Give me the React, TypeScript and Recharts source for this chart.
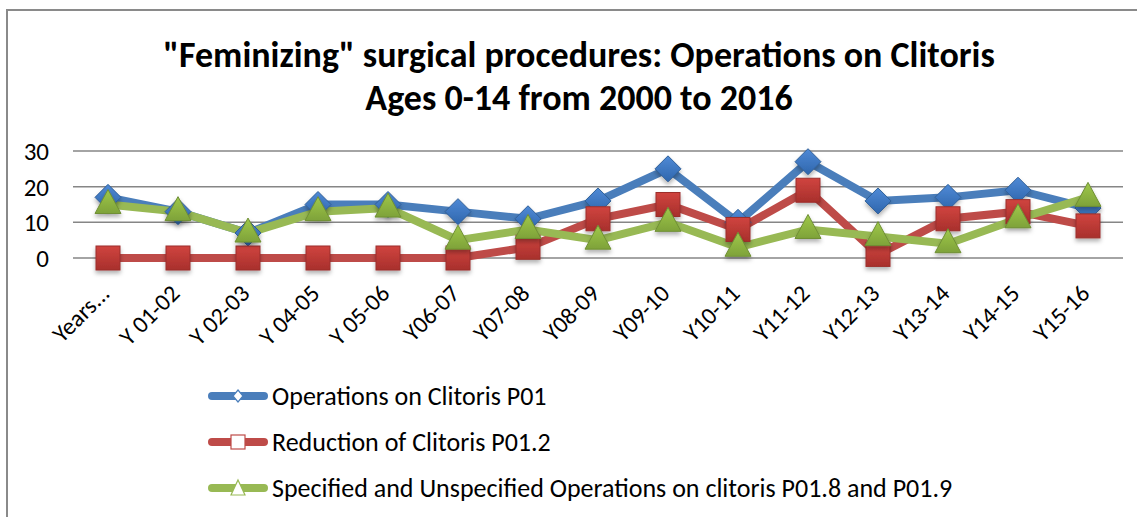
import React from 'react';
import { LineChart, Line, XAxis, YAxis, CartesianGrid } from 'recharts';

const categories = [
  'Years...', 'Y 01-02', 'Y 02-03', 'Y 04-05', 'Y 05-06', 'Y06-07', 'Y07-08', 'Y08-09',
  'Y09-10', 'Y10-11', 'Y11-12', 'Y12-13', 'Y13-14', 'Y14-15', 'Y15-16',
];
const operationsP01 = [17, 13, 7, 15, 15, 13, 11, 16, 25, 10, 27, 16, 17, 19, 14];
const reductionP012 = [0, 0, 0, 0, 0, 0, 3, 11, 15, 8, 19, 1, 11, 13, 9];
const specifiedP018 = [15, 13, 7, 13, 14, 5, 8, 5, 10, 3, 8, 6, 4, 11, 17];
const yTicks = [0, 10, 20, 30];

const seriesNames = [
  'Operations on Clitoris P01',
  'Reduction of Clitoris P01.2',
  'Specified and Unspecified Operations on clitoris P01.8 and P01.9',
];

const data = categories.map((name, i) => ({
  name,
  ops: operationsP01[i],
  red: reductionP012[i],
  spec: specifiedP018[i],
}));

const FONT = 'Carlito, Calibri, Lato, "Open Sans", sans-serif';
const BLUE = '#4a7ebb';
const RED = '#be4b48';
const GREEN = '#98b954';

const Diamond = (p: any) => {
  const { cx, cy } = p;
  if (cx == null || cy == null) return null;
  const r = 13;
  return (
    <polygon
      key={`d-${p.index}`}
      points={`${cx},${cy - r} ${cx + r},${cy} ${cx},${cy + r} ${cx - r},${cy}`}
      fill="url(#gBlue)"
      stroke="#2f5f98"
      strokeWidth={1}
      filter="url(#shadow)"
    />
  );
};

const Square = (p: any) => {
  const { cx, cy } = p;
  if (cx == null || cy == null) return null;
  const r = 12;
  return (
    <rect
      key={`s-${p.index}`}
      x={cx - r}
      y={cy - r}
      width={r * 2}
      height={r * 2}
      fill="url(#gRed)"
      stroke="#9c2f2c"
      strokeWidth={1}
      filter="url(#shadow)"
    />
  );
};

const Triangle = (p: any) => {
  const { cx, cy } = p;
  if (cx == null || cy == null) return null;
  const w = 13;
  return (
    <polygon
      key={`t-${p.index}`}
      points={`${cx},${cy - 15} ${cx + w},${cy + 9} ${cx - w},${cy + 9}`}
      fill="url(#gGreen)"
      stroke="#6f8f34"
      strokeWidth={1}
      filter="url(#shadow)"
    />
  );
};

const XTick = (p: any) => {
  const { x, payload } = p;
  const ax = x + 3;
  const ay = 295;
  return (
    <text
      x={ax}
      y={ay}
      transform={`rotate(-45 ${ax} ${ay})`}
      textAnchor="end"
      fontFamily={FONT}
      fontSize={24}
      fill="#000"
    >
      {payload.value}
    </text>
  );
};

const LegendIcon = ({ color, kind }: { color: string; kind: string }) => (
  <svg width={64} height={20} style={{ display: 'block' }}>
    <line x1={4} y1={10} x2={56} y2={10} stroke={color} strokeWidth={8} strokeLinecap="round" />
    {kind === 'diamond' && (
      <polygon points="30,4 35,10 30,16 25,10" fill="#fff" stroke={color} strokeWidth={1.2} />
    )}
    {kind === 'square' && <rect x={23} y={3} width={14} height={14} fill="#fff" stroke={color} strokeWidth={1.2} />}
    {kind === 'triangle' && (
      <polygon points="30,2 37,17 23,17" fill="#fff" stroke={color} strokeWidth={1.2} />
    )}
  </svg>
);

export default function App() {
  const legendItems = [
    { name: seriesNames[0], color: BLUE, kind: 'diamond' },
    { name: seriesNames[1], color: RED, kind: 'square' },
    { name: seriesNames[2], color: GREEN, kind: 'triangle' },
  ];
  return (
    <div style={{ position: 'fixed', top: 0, left: 0, width: 1137, height: 517, background: '#fff', overflow: 'hidden' }}>
      <svg width={0} height={0} style={{ position: 'absolute' }}>
        <defs>
          <linearGradient id="gBlue" x1="0" y1="0" x2="0" y2="1">
            <stop offset="0%" stopColor="#4f8ad6" />
            <stop offset="100%" stopColor="#2f66ad" />
          </linearGradient>
          <linearGradient id="gRed" x1="0" y1="0" x2="0" y2="1">
            <stop offset="0%" stopColor="#d0443f" />
            <stop offset="100%" stopColor="#a8302c" />
          </linearGradient>
          <linearGradient id="gGreen" x1="0" y1="0" x2="0" y2="1">
            <stop offset="0%" stopColor="#9fc84a" />
            <stop offset="100%" stopColor="#7ea239" />
          </linearGradient>
          <filter id="shadow" x="-50%" y="-50%" width="200%" height="200%">
            <feDropShadow dx="0" dy="3" stdDeviation="2" floodColor="#000" floodOpacity="0.3" />
          </filter>
        </defs>
      </svg>
      <div style={{ position: 'absolute', left: 6, top: 9, width: 2, height: 520, background: '#8a8a8a' }} />
      <div style={{ position: 'absolute', left: 6, top: 9, width: 1140, height: 2, background: '#8a8a8a' }} />
      <div
        style={{
          position: 'absolute',
          top: 34,
          left: 0,
          width: 1158,
          textAlign: 'center',
          fontFamily: FONT,
          fontWeight: 700,
          fontSize: 36,
          lineHeight: '43px',
          color: '#000',
        }}
      >
        "Feminizing" surgical procedures: Operations on Clitoris
        <br />
        Ages 0-14 from 2000 to 2016
      </div>
      <div style={{ position: 'absolute', top: 0, left: 0 }}>
        <LineChart width={1137} height={517} data={data} margin={{ top: 151, right: 14, left: 0, bottom: 159 }}>
          <CartesianGrid vertical={false} stroke="#868686" strokeWidth={1.5} />
          <XAxis
            dataKey="name"
            interval={0}
            height={100}
            padding={{ left: 35, right: 35 }}
            axisLine={false}
            tickLine={false}
            tick={<XTick />}
          />
          <YAxis
            domain={[0, 30]}
            ticks={yTicks}
            interval={0}
            width={73}
            axisLine={false}
            tickLine={false}
            tickSize={0}
            tickMargin={24}
            tick={{ fontFamily: FONT, fontSize: 25, fill: '#000' }}
          />
          <Line
            dataKey="ops"
            name={seriesNames[0]}
            stroke={BLUE}
            strokeWidth={8}
            dot={<Diamond />}
            activeDot={false}
            isAnimationActive={false}
          />
          <Line
            dataKey="red"
            name={seriesNames[1]}
            stroke={RED}
            strokeWidth={8}
            dot={<Square />}
            activeDot={false}
            isAnimationActive={false}
          />
          <Line
            dataKey="spec"
            name={seriesNames[2]}
            stroke={GREEN}
            strokeWidth={8}
            dot={<Triangle />}
            activeDot={false}
            isAnimationActive={false}
          />
        </LineChart>
      </div>
      <div style={{ position: 'absolute', left: 208, top: 373, fontFamily: FONT, fontSize: 26, color: '#000' }}>
        {legendItems.map((it) => (
          <div key={it.name} style={{ display: 'flex', alignItems: 'center', height: 46 }}>
            <LegendIcon color={it.color} kind={it.kind} />
            <span>{it.name}</span>
          </div>
        ))}
      </div>
    </div>
  );
}
